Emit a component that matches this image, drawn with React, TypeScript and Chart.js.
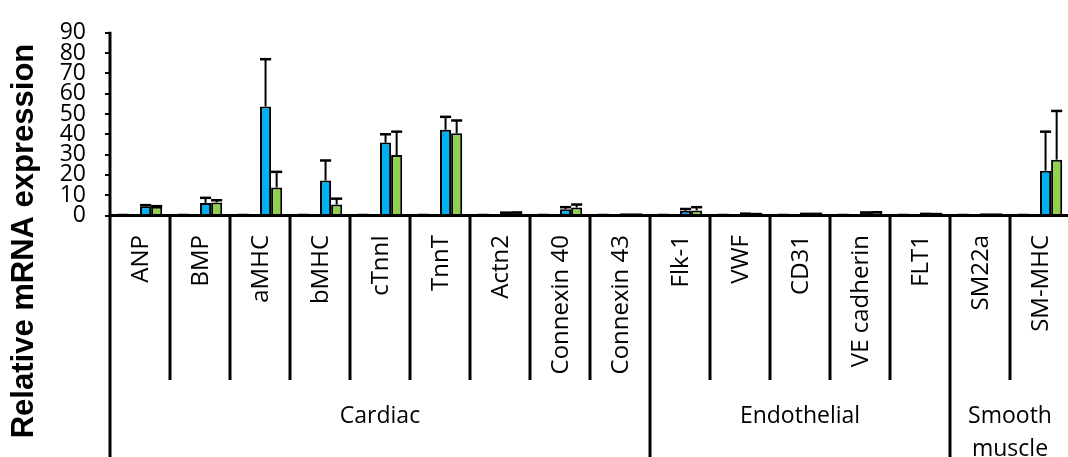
import React, { useEffect, useRef } from "react";
import { Chart, registerables } from "chart.js";

Chart.register(...registerables);

const categories = [
  "ANP", "BMP", "aMHC", "bMHC", "cTnnI", "TnnT", "Actn2", "Connexin 40", "Connexin 43",
  "Flk-1", "VWF", "CD31", "VE cadherin", "FLT1", "SM22a", "SM-MHC",
];
const groupNames = [["Cardiac"], ["Endothelial"], ["Smooth", "muscle"]];
const groupCounts = [9, 5, 2];

const controlValues = [1, 1, 1, 1, 1, 1, 1, 1, 1, 1, 1, 1, 1, 1, 1, 1];
const redValues = [0.2, 0.2, 0.1, 0.8, 0.2, 0.2, 0.3, 0.2, 0.1, 0.3, 0.2, 0.3, 0.3, 0.2, 0.2, 0.2];
const blueValues = [4.5, 6.2, 53.7, 17.2, 35.9, 42.2, 1.2, 3.1, 0.3, 2.3, 0.8, 0.7, 1.3, 0.7, 0.3, 22.1];
const blueErrors = [0.6, 2.5, 23.3, 9.9, 4.1, 6.4, 0.2, 1.0, 0.1, 0.9, 0.1, 0.1, 0.2, 0.1, 0.1, 19.2];
const greenValues = [4.3, 6.4, 13.8, 5.4, 29.8, 40.5, 1.3, 3.9, 0.3, 2.5, 0.6, 0.7, 1.4, 0.6, 0.3, 27.5];
const greenErrors = [0.3, 1.1, 7.7, 2.9, 11.5, 6.3, 0.2, 1.5, 0.1, 1.6, 0.1, 0.1, 0.2, 0.1, 0.1, 24.0];

const yTicks = [0, 10, 20, 30, 40, 50, 60, 70, 80, 90];
const yTitle = "Relative mRNA expression";

const FONT = "'Open Sans', sans-serif";

export default function App() {
  const ref = useRef<HTMLCanvasElement | null>(null);
  useEffect(() => {
    if (!ref.current) return;
    const errs: (number[] | null)[] = [null, null, blueErrors, greenErrors];
    const overlay = {
      id: "overlay",
      afterDatasetsDraw(chart: any) {
        const ctx = chart.ctx as CanvasRenderingContext2D;
        const area = chart.chartArea;
        const n = categories.length;
        const step = (area.right - area.left) / n;
        const ys = chart.scales.y;
        ctx.save();
        // error bars
        ctx.strokeStyle = "#000";
        errs.forEach((e, d) => {
          if (!e) return;
          const meta = chart.getDatasetMeta(d);
          meta.data.forEach((bar: any, i: number) => {
            const v = (chart.data.datasets[d].data as number[])[i];
            const top = ys.getPixelForValue(v + e[i]);
            const w = bar.width;
            ctx.lineWidth = 2;
            ctx.beginPath();
            ctx.moveTo(bar.x, bar.y);
            ctx.lineTo(bar.x, top);
            ctx.stroke();
            ctx.lineWidth = 2.5;
            ctx.beginPath();
            ctx.moveTo(bar.x - w / 2, top);
            ctx.lineTo(bar.x + w / 2, top);
            ctx.stroke();
          });
        });
        // axes
        ctx.lineWidth = 3;
        ctx.beginPath();
        ctx.moveTo(area.left, area.top - 1);
        ctx.lineTo(area.left, chart.height);
        ctx.moveTo(area.left - 1, area.bottom);
        ctx.lineTo(area.right + 2, area.bottom);
        ctx.stroke();
        // dividers
        const groupEnds = new Set<number>();
        let acc = 0;
        groupCounts.forEach((c) => {
          acc += c;
          groupEnds.add(acc);
        });
        for (let i = 1; i <= n; i++) {
          const x = area.left + i * step;
          ctx.beginPath();
          ctx.moveTo(x, area.bottom);
          ctx.lineTo(x, groupEnds.has(i) ? chart.height : 380);
          ctx.stroke();
        }
        // category labels
        ctx.fillStyle = "#000";
        ctx.font = `24px ${FONT}`;
        ctx.textAlign = "right";
        ctx.textBaseline = "middle";
        categories.forEach((c, i) => {
          const cx = area.left + (i + 0.5) * step;
          ctx.save();
          ctx.translate(cx + 1, 235);
          ctx.rotate(-Math.PI / 2);
          ctx.fillText(c, 0, 0);
          ctx.restore();
        });
        // group labels
        ctx.font = `23px ${FONT}`;
        ctx.textAlign = "center";
        let start = 0;
        groupNames.forEach((lines, g) => {
          const cx = area.left + (start + groupCounts[g] / 2) * step;
          lines.forEach((t, k) => {
            ctx.fillText(t, cx, 416 + k * 33);
          });
          start += groupCounts[g];
        });
        // y title
        ctx.font = `bold 31px 'Liberation Sans', Arial, sans-serif`;
        ctx.save();
        ctx.translate(24, 241);
        ctx.rotate(-Math.PI / 2);
        ctx.fillText(yTitle, 0, 0);
        ctx.restore();
        ctx.restore();
      },
    };
    const chart = new Chart(ref.current, {
      type: "bar",
      data: {
        labels: categories,
        datasets: [
          { label: "Control", data: controlValues, backgroundColor: "#404040" },
          { label: "Red", data: redValues, backgroundColor: "#C00000" },
          { label: "Blue", data: blueValues, backgroundColor: "#00B0F0" },
          { label: "Green", data: greenValues, backgroundColor: "#92D050" },
        ].map((d) => ({
          ...d,
          borderColor: "#000",
          borderWidth: 2,
          categoryPercentage: 0.74,
          barPercentage: 1,
        })),
      },
      options: {
        animation: false,
        responsive: false,
        devicePixelRatio: 1,
        layout: { padding: { left: 0, right: 10, top: 9, bottom: 0 } },
        plugins: { legend: { display: false }, tooltip: { enabled: false } },
        scales: {
          x: {
            ticks: { display: false },
            grid: { display: false },
            border: { display: false },
            afterFit: (s: any) => {
              s.height = 241.5;
            },
          },
          y: {
            min: 0,
            max: 90,
            afterBuildTicks: (s: any) => {
              s.ticks = yTicks.map((v) => ({ value: v }));
            },
            ticks: {
              color: "#000",
              padding: 19,
              autoSkip: false,
              font: { family: FONT, size: 23 },
            },
            grid: {
              display: true,
              drawOnChartArea: false,
              drawTicks: true,
              tickLength: 5,
              color: "#000",
              lineWidth: 2,
            },
            border: { display: false },
            afterFit: (s: any) => {
              s.width = 110;
            },
          },
        },
      },
      plugins: [overlay],
    });
    return () => chart.destroy();
  }, []);
  return (
    <div style={{ position: "fixed", left: 0, top: 0, width: 1068, height: 457, overflow: "hidden", background: "#fff" }}>
      <canvas ref={ref} width={1080} height={457} style={{ width: 1080, height: 457, display: "block" }} />
    </div>
  );
}
